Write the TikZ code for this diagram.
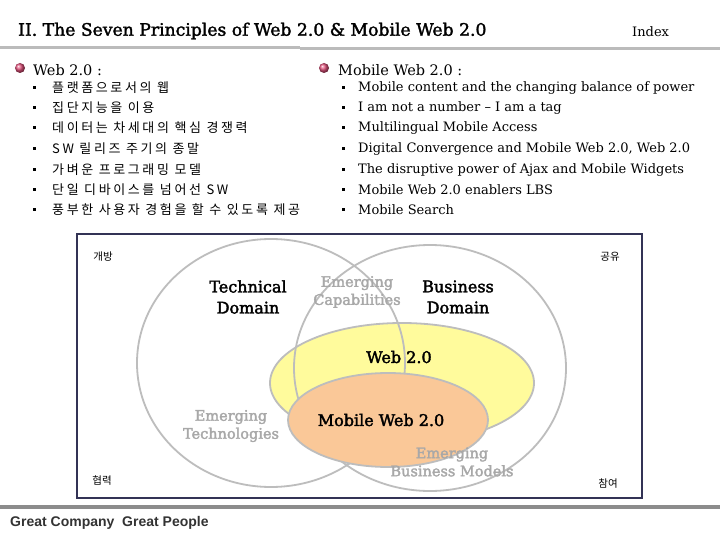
\documentclass[tikz,border=0pt]{standalone}
\usepackage{fontspec}
\setmainfont{DejaVu Serif}
\newfontfamily\kr[LetterSpace=20]{Noto Sans CJK KR}
\newfontfamily\krlabfont{Noto Sans CJK KR}
\newfontfamily\ttlfont[FakeBold=1.8]{DejaVu Serif}
\newfontfamily\domfont[FakeBold=2.2]{DejaVu Serif}
\newfontfamily\gsans{Liberation Sans}
\definecolor{topbar}{HTML}{BBBBBB}
\definecolor{botbar}{HTML}{8C8C8C}
\definecolor{frame}{HTML}{333355}
\definecolor{ring}{HTML}{BDBDBD}
\definecolor{webyel}{HTML}{FFFB9C}
\definecolor{mobor}{HTML}{FAC898}
\definecolor{emg}{HTML}{A8A8A8}
\definecolor{ballred}{HTML}{E0507A}
\tikzset{
  bul/.style={anchor=west, inner sep=0pt, font=\fontsize{13}{15}\selectfont},
  krbul/.style={anchor=west, inner sep=0pt, font=\kr\fontsize{13}{15}\selectfont},
  head/.style={anchor=west, inner sep=0pt, font=\fontsize{14.5}{16}\selectfont},
  dot/.style={fill=black, minimum size=3pt, inner sep=0pt},
  dom/.style={align=center, inner sep=0pt, font=\domfont\fontsize{16}{21}\selectfont},
  emgtxt/.style={align=center, inner sep=0pt, text=emg, font=\domfont\fontsize{14.5}{18}\selectfont},
  krlab/.style={inner sep=0pt, font=\krlabfont\fontsize{10.5}{12}\selectfont},
  ringline/.style={draw=ring, line width=1.8pt}
}
\begin{document}
\begin{tikzpicture}[x=1pt,y=-1pt]
\useasboundingbox (0,0) rectangle (720,540);
\fill[white] (0,0) rectangle (720,540);
% title
\node[anchor=west, inner sep=0pt, font=\ttlfont\fontsize{17.2}{22}\selectfont] (title) at (18,31) {II. The Seven Principles of Web 2.0 \& Mobile Web 2.0};
\node[anchor=west, inner sep=0pt, font=\fontsize{13}{16}\selectfont] (index) at (632,32) {Index};
\fill[topbar] (0,46) rectangle (300,49.5);
\fill[topbar] (300,47) rectangle (720,50.5);
% left header
\shade[ball color=ballred] (20,68) circle (5pt);
\node[head] (h1) at (33,70) {Web 2.0 :};
\foreach \yy in {88,108,128,149,170,190,210} \node[dot] at (34,\yy) {};
\node[krbul] (l1) at (52,88) {플랫폼으로서의 웹};
\node[krbul] (l2) at (52,108) {집단지능을 이용};
\node[krbul] (l3) at (52,128) {데이터는 차세대의 핵심 경쟁력};
\node[krbul] (l4) at (52,149) {SW 릴리즈 주기의 종말};
\node[krbul] (l5) at (52,170) {가벼운 프로그래밍 모델};
\node[krbul] (l6) at (52,190) {단일 디바이스를 넘어선 SW};
\node[krbul] (l7) at (52,210) {풍부한 사용자 경험을 할 수 있도록 제공};
% right header
\shade[ball color=ballred] (324,68) circle (5pt);
\node[head] (h2) at (338,70) {Mobile Web 2.0 :};
\foreach \yy in {88,108,128,149,170,190,210} \node[dot] at (343,\yy) {};
\node[bul] (r1) at (358,88) {Mobile content and the changing balance of power};
\node[bul] (r2) at (358,108) {I am not a number -- I am a tag};
\node[bul] (r3) at (358,128) {Multilingual Mobile Access};
\node[bul] (r4) at (358,149) {Digital Convergence and Mobile Web 2.0, Web 2.0};
\node[bul] (r5) at (358,170) {The disruptive power of Ajax and Mobile Widgets};
\node[bul] (r6) at (358,190) {Mobile Web 2.0 enablers LBS};
\node[bul] (r7) at (358,210) {Mobile Search};
% diagram frame
\draw[frame, line width=1.6pt] (77,234) rectangle (642,498);
% yellow web 2.0
\fill[webyel] (402,383) ellipse [x radius=132pt, y radius=60pt];
\draw[ringline] (402,383) ellipse [x radius=132pt, y radius=60pt];
% domain circles
\draw[ringline] (271,363) ellipse [x radius=134pt, y radius=124pt];
\draw[ringline] (430,368) ellipse [x radius=136pt, y radius=123pt];
% orange mobile
\fill[mobor] (388,420) ellipse [x radius=100pt, y radius=47pt];
\draw[ringline] (388,420) ellipse [x radius=100pt, y radius=47pt];
% labels
\node[dom] (tech) at (248,297) {Technical\\Domain};
\node[dom] (bus) at (458,297) {Business\\Domain};
\node[emgtxt] (ecap) at (357,292) {Emerging\\Capabilities};
\node[dom] (web) at (399,357) {Web 2.0};
\node[emgtxt] (etech) at (231,426) {Emerging\\Technologies};
\node[dom] (mob) at (381,420) {Mobile Web 2.0};
\node[emgtxt] (ebm) at (452,462) {Emerging\\Business Models};
\node[krlab] (k1) at (103,257) {개방};
\node[krlab] (k2) at (610,257) {공유};
\node[krlab] (k3) at (102,481) {협력};
\node[krlab] (k4) at (608,484) {참여};
% footer
\fill[botbar] (0,505) rectangle (720,509);
\node[anchor=west, inner sep=0pt, text=black!80, font=\gsans\bfseries\fontsize{14}{16}\selectfont] (foot) at (10,523) {Great Company\ \ Great People};
\end{tikzpicture}
\end{document}
